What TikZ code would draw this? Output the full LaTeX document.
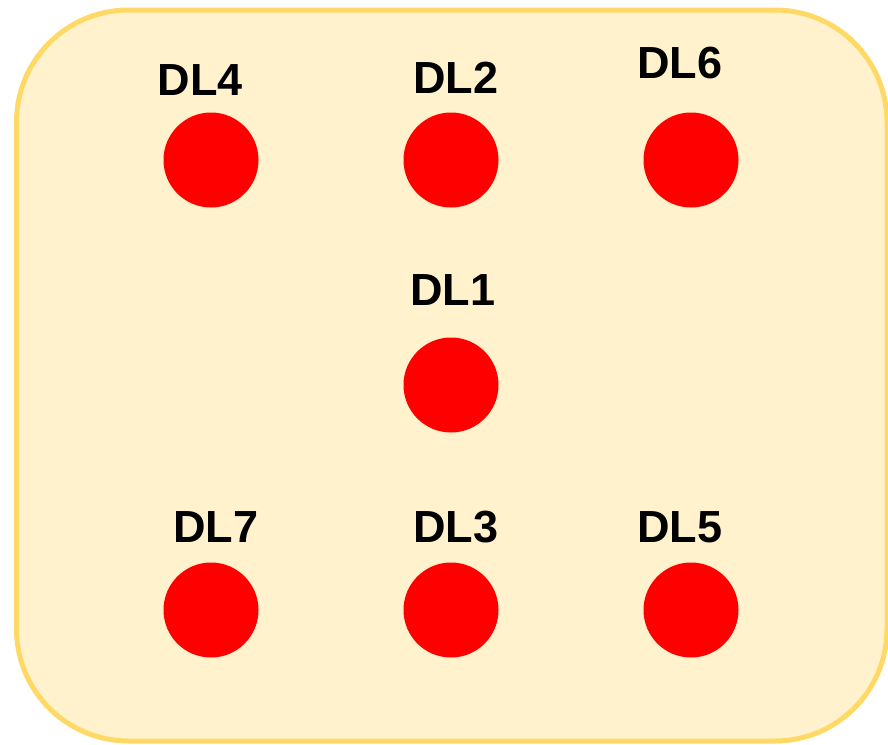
\documentclass[tikz,border=0pt]{standalone}
\usepackage{fontspec}
\setmainfont{Liberation Sans}
\definecolor{boxfill}{HTML}{FFF2CC}
\definecolor{boxline}{HTML}{FFD966}
\definecolor{dotred}{HTML}{FF0000}
\begin{document}
\begin{tikzpicture}[x=1pt,y=-1pt,
  dot/.style={circle,fill=dotred,draw=none,minimum size=95pt,inner sep=0pt},
  lbl/.style={anchor=base,inner sep=0pt,font=\fontsize{45}{54}\selectfont\bfseries}]
\useasboundingbox (0,0) rectangle (888,744);
\begin{scope}
\clip (0,0) rectangle (888,744);
\draw[fill=boxfill,draw=boxline,line width=5pt,rounded corners=112pt] (16.5,10) rectangle (887,741);
\end{scope}
\node[dot] (c4) at (211,160) {};
\node[dot] (c2) at (451,160) {};
\node[dot] (c6) at (691,160) {};
\node[dot] (c1) at (451,385) {};
\node[dot] (c7) at (211,610) {};
\node[dot] (c3) at (451,610) {};
\node[dot] (c5) at (691,610) {};
\node[lbl] (t4) at (200.5,95) {DL4};
\node[lbl] (t2) at (456,93) {DL2};
\node[lbl] (t6) at (680,78) {DL6};
\node[lbl] (t1) at (453,305) {DL1};
\node[lbl] (t7) at (216,542) {DL7};
\node[lbl] (t3) at (456,542) {DL3};
\node[lbl] (t5) at (680,542) {DL5};
\end{tikzpicture}
\end{document}
